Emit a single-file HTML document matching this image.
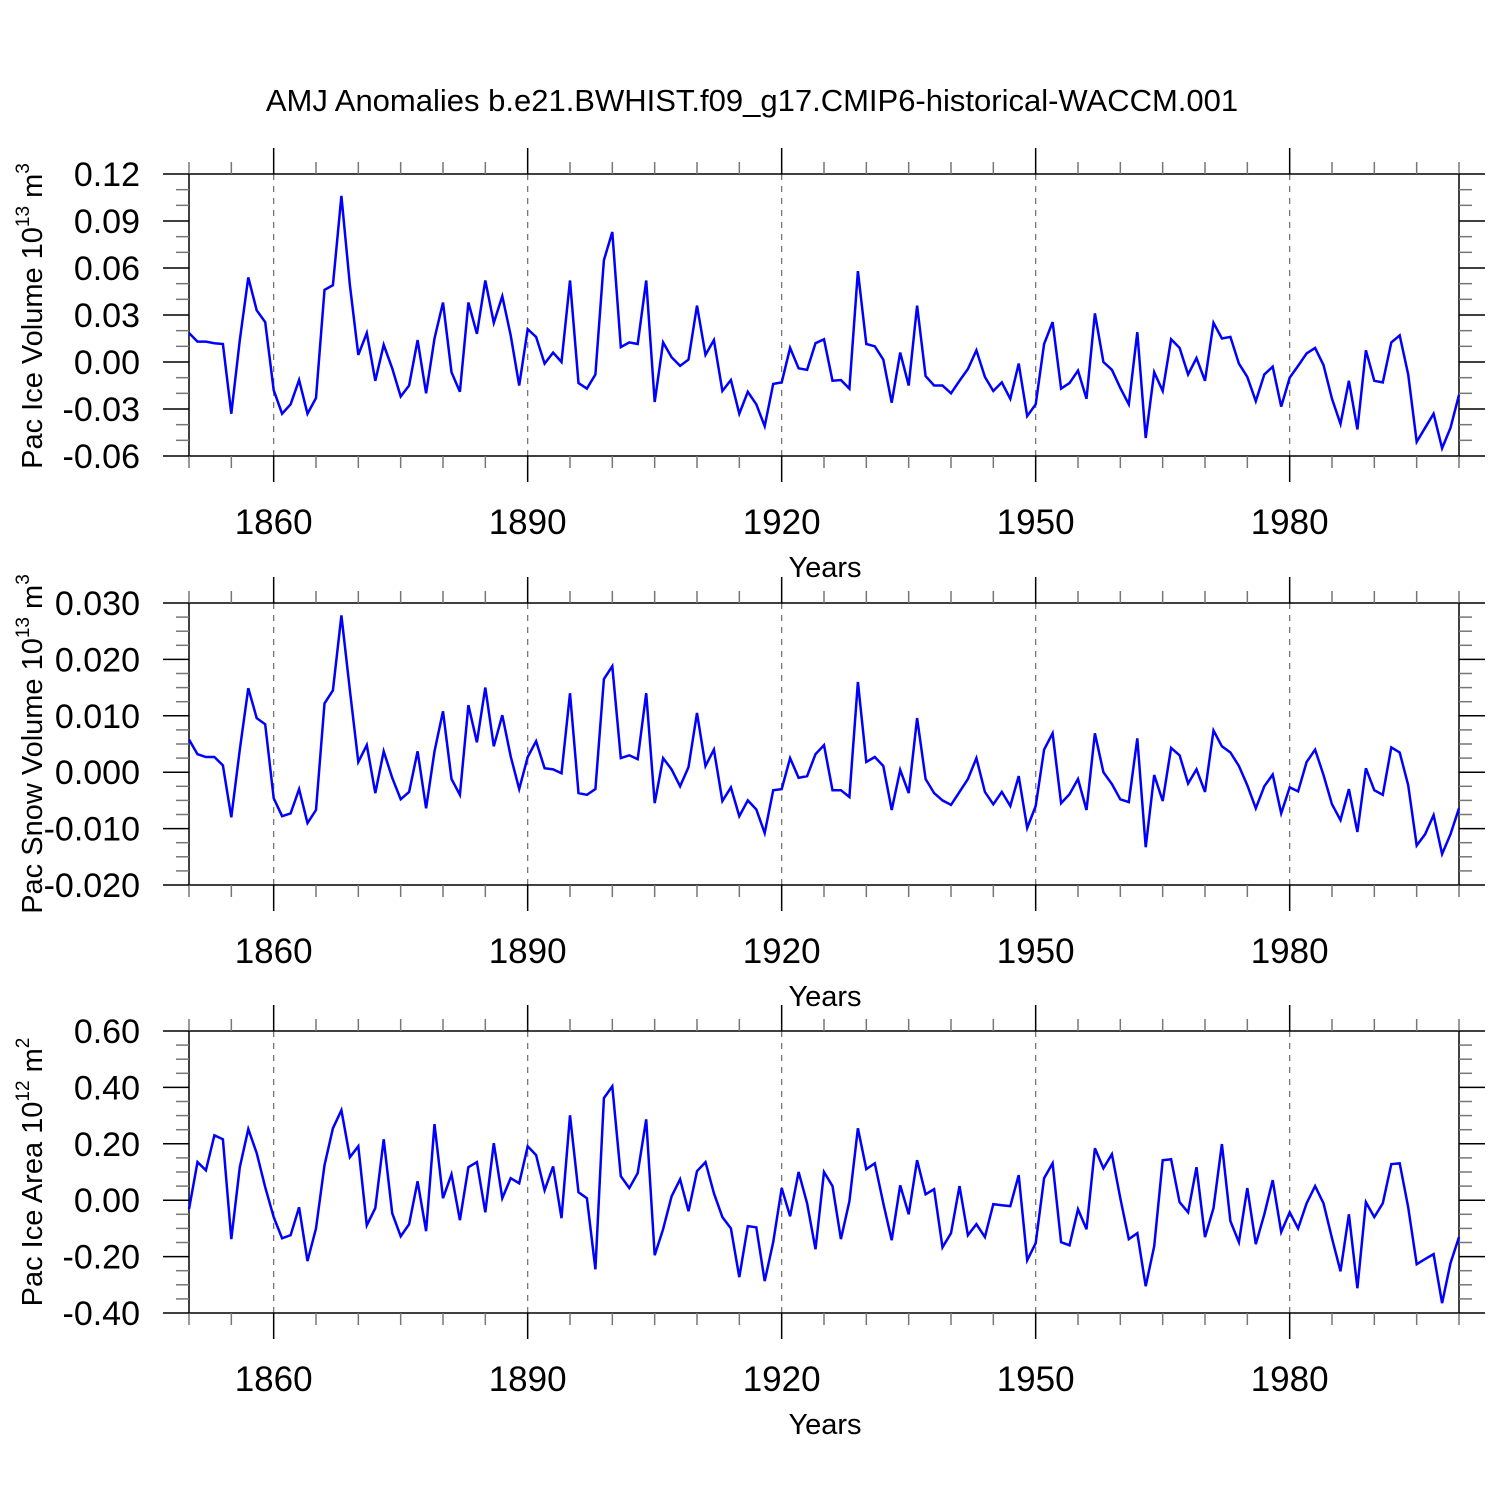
<!DOCTYPE html>
<html><head><meta charset="utf-8"><style>
html,body{margin:0;padding:0;background:#fff;}
svg{display:block;font-family:"Liberation Sans",Arial,sans-serif;}
</style></head><body>
<svg id="chart" width="1500" height="1500" xmlns="http://www.w3.org/2000/svg">
<rect width="1500" height="1500" fill="#fff"/>
<text x="752" y="111" font-size="31" text-anchor="middle">AMJ Anomalies b.e21.BWHIST.f09_g17.CMIP6-historical-WACCM.001</text>
</svg>
<script>
const startYear = 1850;
const iceVolume = [0.0185,0.013,0.013,0.012,0.0115,-0.033,0.014,0.054,0.033,0.0255,-0.018,-0.033,-0.027,-0.0115,-0.033,-0.023,0.046,0.049,0.106,0.049,0.0045,0.0185,-0.012,0.011,-0.004,-0.022,-0.015,0.014,-0.020,0.015,0.038,-0.0065,-0.019,0.038,0.018,0.052,0.025,0.042,0.017,-0.015,0.021,0.016,-0.001,0.006,0,0.052,-0.0135,-0.017,-0.008,0.065,0.083,0.0095,0.0125,0.0115,0.052,-0.0255,0.0125,0.003,-0.0025,0.0015,0.036,0.0045,0.014,-0.0185,-0.0115,-0.033,-0.019,-0.027,-0.041,-0.014,-0.013,0.009,-0.004,-0.005,0.012,0.0145,-0.012,-0.0115,-0.017,0.058,0.0115,0.010,0.0015,-0.026,0.006,-0.015,0.036,-0.009,-0.015,-0.015,-0.020,-0.012,-0.0045,0.0075,-0.0095,-0.0185,-0.013,-0.0235,-0.001,-0.0345,-0.027,0.0115,0.0255,-0.017,-0.0135,-0.0055,-0.0235,0.031,0,-0.005,-0.0165,-0.027,0.019,-0.0485,-0.0065,-0.0185,0.0145,0.009,-0.008,0.0025,-0.012,0.025,0.015,0.016,-0.001,-0.0095,-0.025,-0.008,-0.003,-0.0285,-0.010,-0.0025,0.0055,0.009,-0.002,-0.0235,-0.0395,-0.012,-0.043,0.0075,-0.012,-0.013,0.0125,0.017,-0.008,-0.051,-0.042,-0.033,-0.055,-0.042,-0.021];
const snowVolume = [0.0058,0.0032,0.0027,0.0027,0.0012,-0.008,0.004,0.0149,0.0096,0.0085,-0.0046,-0.0078,-0.0073,-0.003,-0.009,-0.0067,0.0122,0.0145,0.0278,0.0145,0.0018,0.0048,-0.0037,0.0037,-0.001,-0.0048,-0.0035,0.0037,-0.0064,0.0037,0.0108,-0.0012,-0.004,0.0119,0.0053,0.015,0.0046,0.0101,0.0028,-0.003,0.0027,0.0055,0.0007,0.0005,-0.0002,0.014,-0.0037,-0.004,-0.003,0.0165,0.0188,0.0025,0.003,0.0023,0.014,-0.0055,0.0025,0.0005,-0.0025,0.0009,0.0105,0.0011,0.004,-0.0051,-0.0027,-0.0078,-0.005,-0.0066,-0.0108,-0.0032,-0.003,0.0025,-0.001,-0.0007,0.0032,0.0048,-0.0032,-0.0032,-0.0044,0.016,0.0018,0.0027,0.0011,-0.0067,0.0004,-0.0037,0.0096,-0.0012,-0.0037,-0.005,-0.0058,-0.0035,-0.0012,0.0025,-0.0035,-0.0057,-0.0035,-0.006,-0.0007,-0.0099,-0.006,0.004,0.0069,-0.0055,-0.0039,-0.0012,-0.0067,0.0069,0,-0.0021,-0.0048,-0.0053,0.006,-0.0133,-0.0005,-0.0051,0.0043,0.003,-0.002,0.0005,-0.0035,0.0074,0.0046,0.0035,0.0011,-0.0023,-0.0064,-0.0025,-0.0004,-0.0073,-0.0027,-0.0034,0.0018,0.004,-0.0005,-0.0057,-0.0085,-0.003,-0.0106,0.0007,-0.0032,-0.004,0.0044,0.0035,-0.0023,-0.013,-0.011,-0.0076,-0.0145,-0.011,-0.0064];
const iceArea = [-0.032,0.135,0.106,0.23,0.216,-0.138,0.117,0.252,0.167,0.046,-0.06,-0.135,-0.124,-0.025,-0.216,-0.1,0.124,0.255,0.319,0.152,0.191,-0.089,-0.028,0.216,-0.046,-0.128,-0.085,0.067,-0.11,0.27,0.007,0.092,-0.071,0.117,0.135,-0.043,0.202,0.007,0.078,0.06,0.191,0.16,0.035,0.12,-0.064,0.301,0.028,0.007,-0.245,0.362,0.404,0.085,0.043,0.096,0.287,-0.195,-0.103,0.014,0.074,-0.039,0.103,0.135,0.025,-0.06,-0.1,-0.273,-0.092,-0.096,-0.287,-0.149,0.043,-0.057,0.1,-0.011,-0.174,0.1,0.05,-0.138,-0.004,0.255,0.11,0.131,-0.011,-0.142,0.053,-0.05,0.142,0.021,0.039,-0.167,-0.117,0.05,-0.124,-0.085,-0.131,-0.014,-0.018,-0.021,0.089,-0.213,-0.152,0.078,0.131,-0.149,-0.16,-0.032,-0.103,0.184,0.113,0.163,0.007,-0.138,-0.117,-0.305,-0.163,0.142,0.145,-0.007,-0.043,0.117,-0.131,-0.028,0.199,-0.074,-0.149,0.043,-0.156,-0.05,0.071,-0.113,-0.043,-0.1,-0.011,0.05,-0.011,-0.135,-0.252,-0.05,-0.312,-0.007,-0.06,-0.011,0.128,0.131,-0.025,-0.227,-0.209,-0.191,-0.365,-0.223,-0.131];
const xTickYears = [1860,1890,1920,1950,1980];
const iceVolTicks = ["0.12","0.09","0.06","0.03","0.00","-0.03","-0.06"];
const snowTicks = ["0.030","0.020","0.010","0.000","-0.010","-0.020"];
const areaTicks = ["0.60","0.40","0.20","0.00","-0.20","-0.40"];

const NS = "http://www.w3.org/2000/svg";
const svg = document.getElementById('chart');
const X0 = 189, X1 = 1459, Y0 = 1850, Y1 = 2000, H = 282;
function xs(yr){ return X0 + (yr - Y0) / (Y1 - Y0) * (X1 - X0); }
function mk(tag, attrs, parent){
  const e = document.createElementNS(NS, tag);
  for (const k in attrs) e.setAttribute(k, attrs[k]);
  (parent || svg).appendChild(e);
  return e;
}

function panel(name, top, data, ticks, minorPerMajor, yLabelHTML, labelY){
  const g = mk('g', {});
  
  
  const vmax = parseFloat(ticks[0]), vmin = parseFloat(ticks[ticks.length-1]);
  const ys = v => top + (vmax - v) / (vmax - vmin) * H;
  const bot = top + H;
  xTickYears.forEach(yr => {
    const l = mk('line', {x1: xs(yr), x2: xs(yr), y1: top, y2: bot, stroke: '#777', 'stroke-width': 1.3, 'stroke-dasharray': '6,6'}, g);
    
    
  });
  const fr = mk('rect', {x: X0, y: top, width: X1 - X0, height: H, fill: 'none', stroke: '#000', 'stroke-width': 1.5}, g);
  
  
  for (let yr = 1850; yr <= 2000; yr += 5) {
    const major = xTickYears.indexOf(yr) >= 0;
    const len = major ? 26 : 12;
    const c = major ? '#000' : '#777';
    mk('line', {x1: xs(yr), x2: xs(yr), y1: top - len, y2: top, stroke: c, 'stroke-width': 1.5}, g);
    mk('line', {x1: xs(yr), x2: xs(yr), y1: bot, y2: bot + len, stroke: c, 'stroke-width': 1.5}, g);
  }
  xTickYears.forEach(yr => {
    const t = mk('text', {x: xs(yr), y: bot + 78, 'font-size': 35, 'text-anchor': 'middle'}, g);
    t.textContent = String(yr);
    
    
  });
  const n = ticks.length;
  const step = (vmax - vmin) / (n - 1);
  for (let i = 0; i < n; i++) {
    const v = vmax - i * step;
    const y = ys(v);
    mk('line', {x1: X0 - 26, x2: X0, y1: y, y2: y, stroke: '#000', 'stroke-width': 1.5}, g);
    mk('line', {x1: X1, x2: X1 + 26, y1: y, y2: y, stroke: '#000', 'stroke-width': 1.5}, g);
    const t = mk('text', {x: 140, y: y + 12, 'font-size': 34, 'text-anchor': 'end'}, g);
    t.textContent = ticks[i];
    
    
    if (i < n - 1) {
      for (let m = 1; m <= minorPerMajor; m++) {
        const ym = ys(v - m * step / (minorPerMajor + 1));
        mk('line', {x1: X0 - 13, x2: X0, y1: ym, y2: ym, stroke: '#777', 'stroke-width': 1.5}, g);
        mk('line', {x1: X1, x2: X1 + 13, y1: ym, y2: ym, stroke: '#777', 'stroke-width': 1.5}, g);
      }
    }
  }
  const pts = data.map((v, i) => xs(startYear + i).toFixed(1) + ',' + ys(v).toFixed(1)).join(' ');
  const pl = mk('polyline', {points: pts, fill: 'none', stroke: '#0000ff', 'stroke-width': 2.5, 'stroke-linejoin': 'miter'}, g);
  
  
  const xl = mk('text', {x: 825, y: bot + 121, 'font-size': 29, 'text-anchor': 'middle'}, g);
  xl.textContent = 'Years';
  
  
  const yl = mk('text', {x: 0, y: 0, 'font-size': 29, 'text-anchor': 'middle', transform: 'translate(42,' + labelY + ') rotate(-90)'}, g);
  yl.innerHTML = yLabelHTML;
  
  
}

panel('ice-volume', 174, iceVolume, iceVolTicks, 2, 'Pac Ice Volume 10<tspan dy="-13" font-size="19">13</tspan><tspan dy="13"> m</tspan><tspan dy="-13" font-size="19">3</tspan>', 316);
panel('snow-volume', 603, snowVolume, snowTicks, 3, 'Pac Snow Volume 10<tspan dy="-13" font-size="19">13</tspan><tspan dy="13"> m</tspan><tspan dy="-13" font-size="19">3</tspan>', 744);
panel('ice-area', 1031, iceArea, areaTicks, 3, 'Pac Ice Area 10<tspan dy="-13" font-size="19">12</tspan><tspan dy="13"> m</tspan><tspan dy="-13" font-size="19">2</tspan>', 1172);
</script>
</body></html>
